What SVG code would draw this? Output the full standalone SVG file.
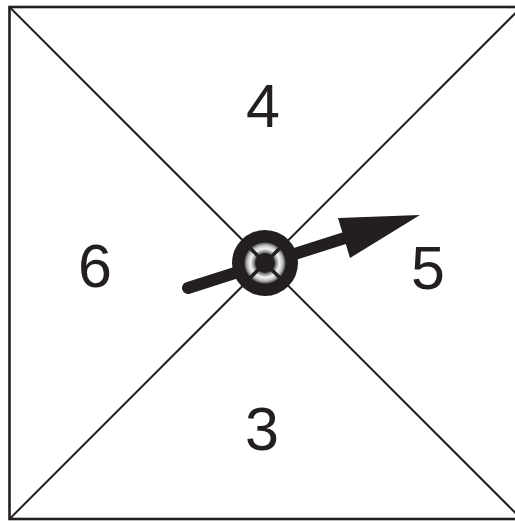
<svg xmlns="http://www.w3.org/2000/svg" width="515" height="521" viewBox="0 0 515 521">
<style>
.frame{fill:none;stroke:#231f20;stroke-width:2.6}
.diag{stroke:#231f20;stroke-width:2}
.num{font-family:"Liberation Sans",Arial,sans-serif;font-size:61px;fill:#231f20;text-anchor:middle}
</style>
<defs>
<radialGradient id="ring" cx="265" cy="263" r="20.5" gradientUnits="userSpaceOnUse">
<stop offset="0.5" stop-color="#6a6a6a"/>
<stop offset="0.7" stop-color="#f4f4f4"/>
<stop offset="0.85" stop-color="#c4c4c4"/>
<stop offset="1" stop-color="#555"/>
</radialGradient>
</defs>
<g id="board">
<rect class="frame" x="9.5" y="7" width="512" height="512"/>
</g>
<g id="connectors">
<line class="diag" x1="9.5" y1="7" x2="521.5" y2="519"/>
<line class="diag" x1="521.5" y1="7" x2="9.5" y2="519"/>
</g>
<g id="sector-4"><text class="num" x="263" y="127">4</text></g>
<g id="sector-6"><text class="num" x="95" y="287">6</text></g>
<g id="sector-5"><text class="num" x="428" y="289">5</text></g>
<g id="sector-3"><text class="num" x="262" y="450">3</text></g>
<g id="spinner">
<line x1="188" y1="288" x2="348" y2="237" stroke="#231f20" stroke-width="12" stroke-linecap="round"/>
<polygon points="420,215 338,218 350,258" fill="#231f20"/>
<circle cx="265" cy="263" r="33" fill="#231f20"/>
<circle cx="265" cy="263" r="20.5" fill="url(#ring)"/>
<g stroke="#231f20" stroke-width="3.5">
<line x1="250" y1="248" x2="280" y2="278"/>
<line x1="280" y1="248" x2="250" y2="278"/>
</g>
<circle cx="265" cy="263" r="10" fill="#231f20"/>
</g>
</svg>
